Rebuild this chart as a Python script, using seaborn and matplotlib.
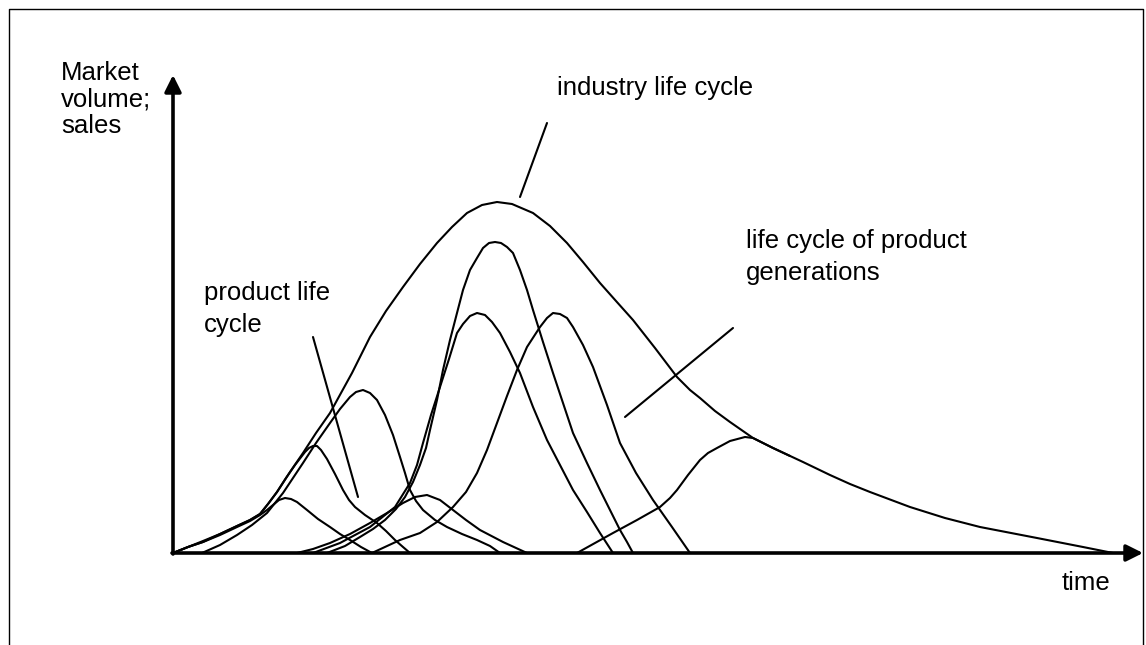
import pandas as pd
import numpy as np
import seaborn as sns
import matplotlib.pyplot as plt

# values: time on x, market volume / sales on y
industry_t = [0, 15, 30, 47, 64, 77, 87, 95, 104, 117, 130, 143, 157, 168, 179, 188, 197, 213,
              230, 247, 264, 279, 294, 309, 324, 339, 360, 377, 394, 410, 427, 443, 460, 482,
              504, 517, 527, 542, 557, 580, 600, 630, 657, 677, 697, 737, 772, 807, 864, 910, 940]
industry_v = [0, 6, 12, 19, 27, 33, 39, 49, 61, 81, 100, 120, 140, 160, 180, 198, 216, 242,
              266, 289, 310, 326, 340, 348, 351, 349, 340, 327, 310, 291, 270, 252, 233, 205,
              176, 163, 155, 142, 131, 115, 105, 91, 78, 69, 61, 46, 35, 26, 15, 6, 0]

# product life cycles (small early bumps)
plc1_t = [0, 15, 30, 47, 64, 77, 87, 94, 100, 106, 112, 118, 124, 134, 145, 157, 167, 177, 188, 199]
plc1_v = [0, 6, 11, 18, 26, 32, 38, 43, 48, 53, 55, 54, 51, 43, 34, 26, 19, 13, 6, 0]
plc2_t = [0, 15, 30, 47, 64, 77, 87, 95, 104, 113, 122, 132, 136, 140, 144, 148, 154, 162, 170,
          176, 182, 192, 204, 213, 222, 230, 237]
plc2_v = [0, 6, 11, 19, 27, 33, 39, 49, 61, 75, 88, 101, 105, 107, 107, 103, 94, 79, 63,
          53, 46, 38, 30, 22, 13, 6, 0]
plc3_t = [29, 47, 64, 79, 94, 102, 110, 120, 130, 143, 157, 167, 177, 183, 190, 197, 204, 212,
          220, 227, 232, 237, 243, 250, 262, 274, 289, 304, 317, 327]
plc3_v = [0, 8, 18, 28, 40, 50, 60, 75, 90, 110, 130, 144, 156, 161, 163, 160, 153, 138,
          118, 96, 80, 63, 52, 43, 33, 26, 19, 13, 7, 0]
plc4_t = [124, 140, 157, 177, 197, 214, 230, 242, 254, 267, 280, 293, 307, 330, 354]
plc4_v = [0, 4, 10, 19, 30, 40, 50, 56, 58, 53, 43, 33, 23, 11, 0]

# product generations
gen1_t = [154, 172, 187, 200, 212, 223, 232, 240, 247, 253, 257, 264, 270, 277, 284, 290, 297,
          304, 310, 316, 322, 328, 334, 340, 347, 354, 360, 370, 380, 390, 400, 414, 427, 437,
          447, 454, 460]
gen1_v = [0, 7, 16, 24, 33, 44, 56, 71, 88, 105, 123, 153, 183, 213, 240, 263, 283,
          295, 305, 310, 311, 310, 306, 300, 283, 263, 243, 211, 180, 150, 120, 90, 63, 43,
          23, 11, 0]
gen2_t = [140, 167, 197, 222, 237, 244, 250, 258, 267, 276, 284, 290, 297, 304, 312, 319, 327,
          337, 347, 360, 374, 387, 400, 414, 427, 440]
gen2_v = [0, 10, 26, 46, 70, 88, 110, 138, 166, 194, 220, 229, 237, 240, 238, 231, 220,
          201, 180, 146, 113, 88, 63, 41, 20, 0]
gen3_t = [199, 227, 247, 264, 280, 293, 304, 314, 324, 334, 344, 354, 367, 374, 380, 387, 394,
          400, 410, 420, 434, 447, 463, 480, 499, 517]
gen3_v = [0, 13, 20, 31, 46, 61, 80, 103, 130, 157, 183, 206, 226, 235, 240, 239, 235,
          226, 208, 186, 148, 110, 80, 53, 26, 0]
gen4_t = [404, 422, 440, 464, 487, 497, 504, 515, 527, 535, 544, 557, 572, 580, 590, 600, 617]
gen4_v = [0, 10, 20, 33, 46, 55, 63, 78, 93, 100, 105, 112, 116, 115, 110, 105, 97]

curves = {
    'industry': (industry_t, industry_v),
    'plc1': (plc1_t, plc1_v),
    'plc2': (plc2_t, plc2_v),
    'plc3': (plc3_t, plc3_v),
    'plc4': (plc4_t, plc4_v),
    'gen1': (gen1_t, gen1_v),
    'gen2': (gen2_t, gen2_v),
    'gen3': (gen3_t, gen3_v),
    'gen4': (gen4_t, gen4_v),
}

rows = []
for name, (ts, vs) in curves.items():
    for t, v in zip(ts, vs):
        rows.append({'curve': name, 't': t, 'v': v})
df = pd.DataFrame(rows)

sns.set_style('white')
plt.rcParams['font.family'] = ['Liberation Sans', 'DejaVu Sans']
plt.rcParams['text.color'] = 'black'

fig = plt.figure(figsize=(11.46, 6.45), dpi=100)
ax = fig.add_axes([0, 0, 1, 1])
ax.set_xlim(-173, 973)
ax.set_ylim(-92, 553)
ax.axis('off')

sns.lineplot(data=df, x='t', y='v', units='curve', estimator=None, sort=False,
             color='black', lw=1.5, ax=ax, legend=False,
             solid_joinstyle='round', solid_capstyle='round')

# axes with arrow heads
arrow = dict(arrowstyle='-|>,head_length=0.5,head_width=0.25', color='black', lw=2.6,
             mutation_scale=20, shrinkA=0, shrinkB=0)
ax.annotate('', xy=(0, 478), xytext=(0, -1), arrowprops=arrow)
ax.annotate('', xy=(970, 0), xytext=(-1, 0), arrowprops=arrow)

# pointer lines from the labels
ax.plot([140, 185], [216, 56], color='black', lw=1.5)
ax.plot([374, 347], [430, 356], color='black', lw=1.5)
ax.plot([560, 452], [225, 136], color='black', lw=1.5)

# frame round the drawing
ax.plot([-164, -164, 970, 970], [-100, 544, 544, -100], color='black', lw=1.0, clip_on=False)

fs = 18.5
for txt, y in zip(['Market', 'volume;', 'sales'], [473, 446, 420]):
    ax.text(-112, y, txt, fontsize=fs, va='baseline', ha='left', color='black')
ax.text(31, 253, 'product life', fontsize=fs, va='baseline', ha='left', color='black')
ax.text(31, 221, 'cycle', fontsize=fs, va='baseline', ha='left', color='black')
ax.text(384, 458, 'industry life cycle', fontsize=fs, va='baseline', ha='left', color='black')
ax.text(573, 305, 'life cycle of product', fontsize=fs, va='baseline', ha='left', color='black')
ax.text(573, 273, 'generations', fontsize=fs, va='baseline', ha='left', color='black')
ax.text(889, -37, 'time', fontsize=fs, va='baseline', ha='left', color='black')

fig.savefig('out.png', dpi=100)
